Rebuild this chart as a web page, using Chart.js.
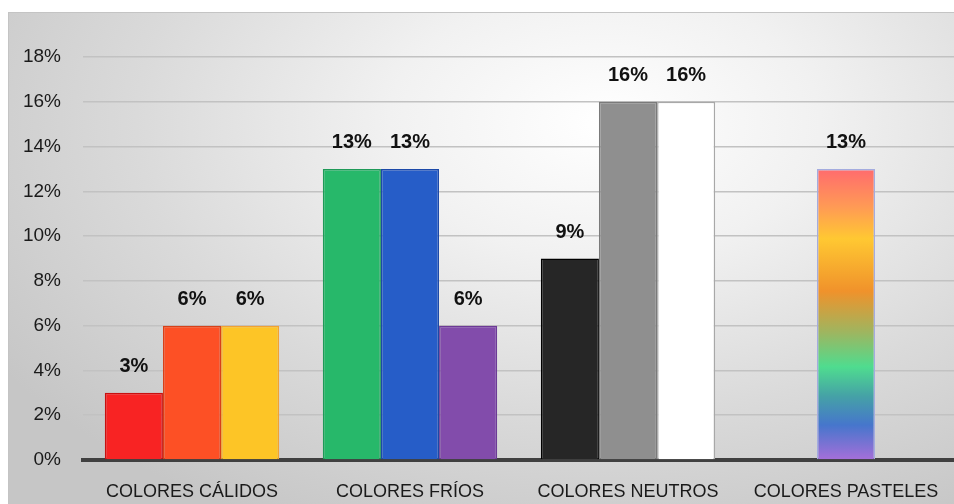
<!DOCTYPE html>
<html>
<head>
<meta charset="utf-8">
<script src="https://cdn.jsdelivr.net/npm/chart.js@4/dist/chart.umd.min.js"></script>
<style>
  html, body { margin: 0; padding: 0; background: #fff; overflow: hidden; }
  #wrap {
    position: absolute; left: 8px; top: 12px;
    width: 960px; height: 500px;
    border-left: 1px solid #c4c4c4; border-top: 1px solid #c4c4c4;
    background: radial-gradient(ellipse 75% 90% at 62% 22%, #ffffff 0%, #f1f1f1 30%, #dadada 65%, #c6c6c6 100%);
  }
</style>
</head>
<body>
<div id="wrap"><canvas id="grafico"></canvas></div>
<script>
// categorías y valores (porcentaje)
const categorias = ['COLORES CÁLIDOS', 'COLORES FRÍOS', 'COLORES NEUTROS', 'COLORES PASTELES'];
const serie1 = [3, 13, 9, null];
const serie2 = [6, 13, 16, 13];
const serie3 = [6, 6, 16, null];
const ticksY = [0, 2, 4, 6, 8, 10, 12, 14, 16, 18];

// colores por barra
const relleno1 = ['#f82323', '#27b86a', '#262626', null];
const borde1 = ['#c81010', '#1f9a58', '#000000', null];
const relleno2 = ['#fd5025', '#265dc8', '#8f8f8f', 'pastel'];
const borde2 = ['#d84018', '#1c49a8', '#7a7a7a', '#a4acdf'];
const relleno3 = ['#fdc526', '#824cab', '#ffffff', null];
const borde3 = ['#f2a230', '#6c3a96', '#a8a8a8', null];

// degradado para la barra pastel, usando la escala Y
function degradadoPastel(ctx) {
  const chart = ctx.chart;
  const y = chart.scales.y;
  if (!y || !chart.chartArea) return '#ccc';
  const top = y.getPixelForValue(serie2[3]);
  const bot = y.getPixelForValue(0);
  const g = chart.ctx.createLinearGradient(0, top, 0, bot);
  g.addColorStop(0.00, '#ff6b6e');
  g.addColorStop(0.13, '#ff9a55');
  g.addColorStop(0.24, '#ffc832');
  g.addColorStop(0.42, '#f0922b');
  g.addColorStop(0.56, '#9fb55f');
  g.addColorStop(0.68, '#4fdc8f');
  g.addColorStop(0.78, '#45a2a6');
  g.addColorStop(0.88, '#4676cc');
  g.addColorStop(1.00, '#a66fd9');
  return g;
}

function colorBarra(lista) {
  return function (ctx) {
    const c = lista[ctx.dataIndex];
    if (c === 'pastel') return degradadoPastel(ctx);
    return c;
  };
}

// etiquetas encima de cada barra
const etiquetas = {
  id: 'etiquetas',
  afterDatasetsDraw(chart) {
    const ctx = chart.ctx;
    ctx.save();
    ctx.font = 'bold 20px "Liberation Sans", Arial, sans-serif';
    ctx.fillStyle = '#111';
    ctx.textAlign = 'center';
    ctx.textBaseline = 'middle';
    chart.data.datasets.forEach((ds, i) => {
      const meta = chart.getDatasetMeta(i);
      meta.data.forEach((bar, j) => {
        const v = ds.data[j];
        if (v === null) return;
        ctx.fillText(v + '%', bar.x, bar.y - 26);
      });
    });
    ctx.restore();
  }
};

const ctx = document.getElementById('grafico').getContext('2d');
const grafico = new Chart(ctx, {
  type: 'bar',
  data: {
    labels: categorias,
    datasets: [
      { data: serie1, backgroundColor: colorBarra(relleno1), borderColor: borde1, borderWidth: 1.5 },
      { data: serie2, backgroundColor: colorBarra(relleno2), borderColor: borde2, borderWidth: 1.5 },
      { data: serie3, backgroundColor: colorBarra(relleno3), borderColor: borde3, borderWidth: 1.5 }
    ]
  },
  options: {
    responsive: true,
    maintainAspectRatio: false,
    animation: false,
    layout: { padding: { top: 44, right: 14, bottom: 0, left: 0 } },
    datasets: { bar: { categoryPercentage: 0.8, barPercentage: 1.0, skipNull: false } },
    plugins: { legend: { display: false }, tooltip: { enabled: false } },
    scales: {
      x: {
        grid: { display: false, drawTicks: false },
        border: { display: true, color: '#404040', width: 4 },
        ticks: {
          color: '#1a1a1a', padding: 21, maxRotation: 0, autoSkip: false,
          font: { family: '"Liberation Sans", Arial, sans-serif', size: 18 }
        },
        afterFit(scale) { scale.height = 53; }
      },
      y: {
        min: 0, max: 18,
        afterBuildTicks(scale) { scale.ticks = ticksY.map(v => ({ value: v })); },
        grid: { color: '#c2c2c2', lineWidth: 1.5, drawTicks: false },
        border: { display: false },
        ticks: {
          color: '#1a1a1a', padding: 22,
          font: { family: '"Liberation Sans", Arial, sans-serif', size: 19 },
          callback: v => v + '%'
        },
        afterFit(scale) { scale.width = 74; }
      }
    }
  },
  plugins: [etiquetas]
});
</script>
</body>
</html>
